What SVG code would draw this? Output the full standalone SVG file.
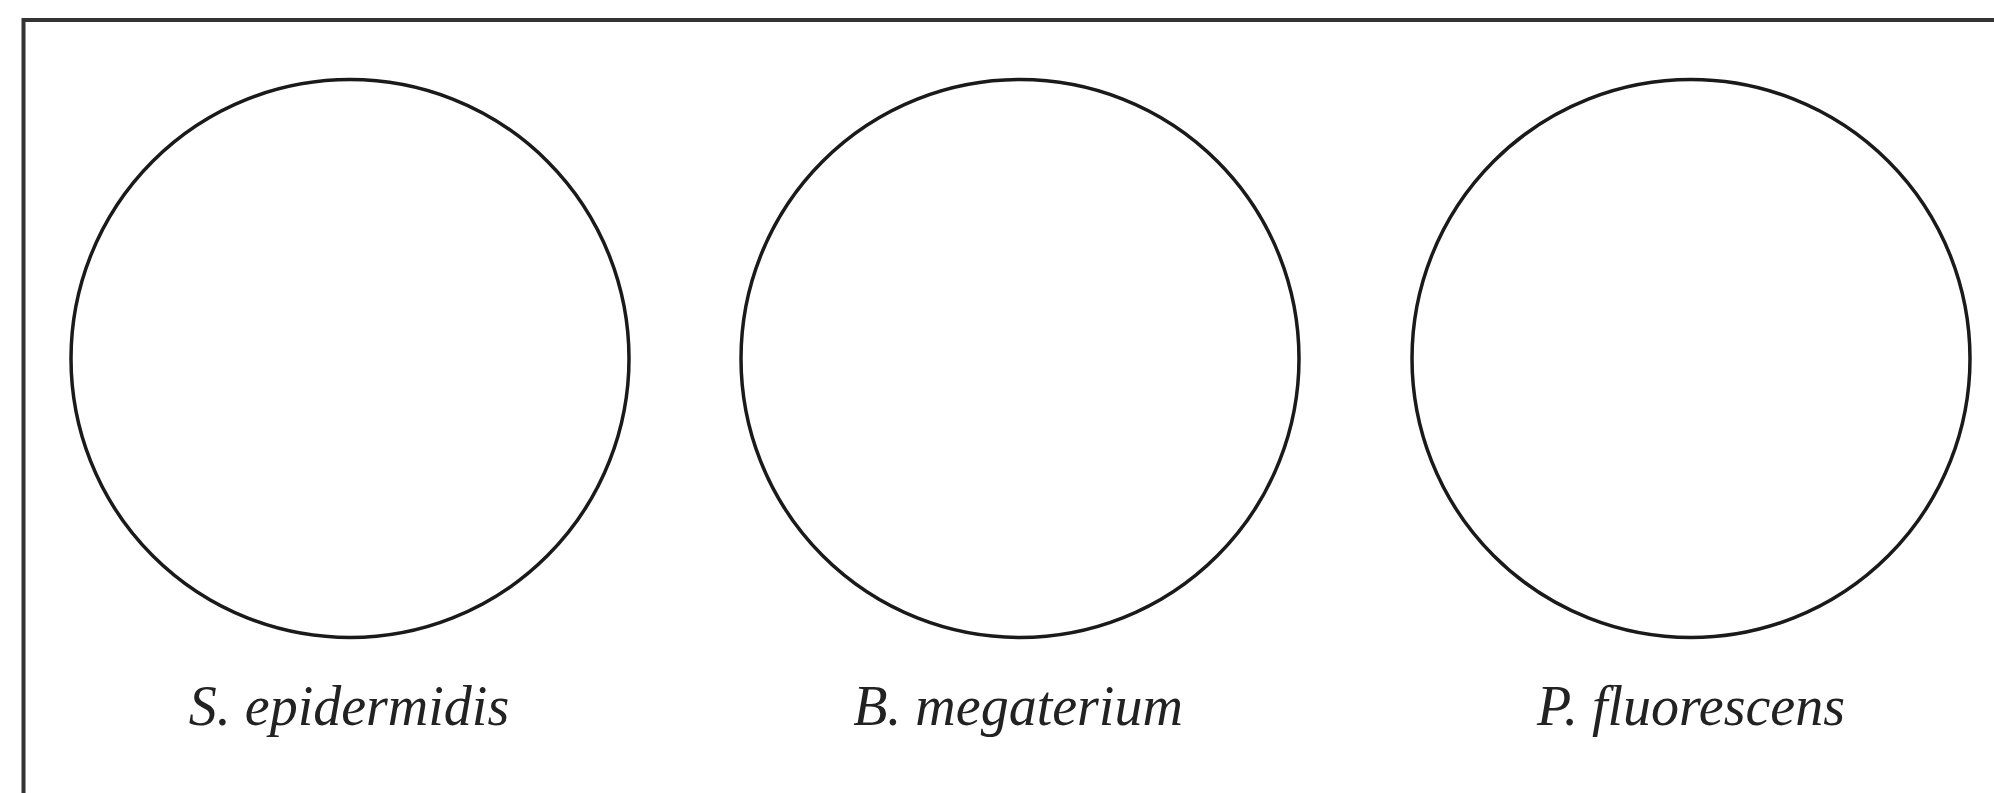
<svg xmlns="http://www.w3.org/2000/svg" width="1994" height="793" viewBox="0 0 1994 793">
<style>
.plate{fill:none;stroke:#1a1a1a;stroke-width:3.5}
.lbl{font-family:"Liberation Serif","Times New Roman",serif;font-style:italic;font-size:56px;fill:#222;text-anchor:middle}
.frame{fill:none;stroke:#333;stroke-width:4}
</style>
<rect width="1994" height="793" fill="#fff"/>
<path class="frame" d="M23.5,800 V20 H2000"/>
<g id="plate1"><circle class="plate" cx="350" cy="358.5" r="279"/><text class="lbl" x="349" y="725">S. epidermidis</text></g>
<g id="plate2"><circle class="plate" cx="1020" cy="358.5" r="279"/><text class="lbl" x="1018" y="725">B. megaterium</text></g>
<g id="plate3"><circle class="plate" cx="1691" cy="358.5" r="279"/><text class="lbl" x="1691" y="725">P. fluorescens</text></g>
<g id="connectors"/>
</svg>
